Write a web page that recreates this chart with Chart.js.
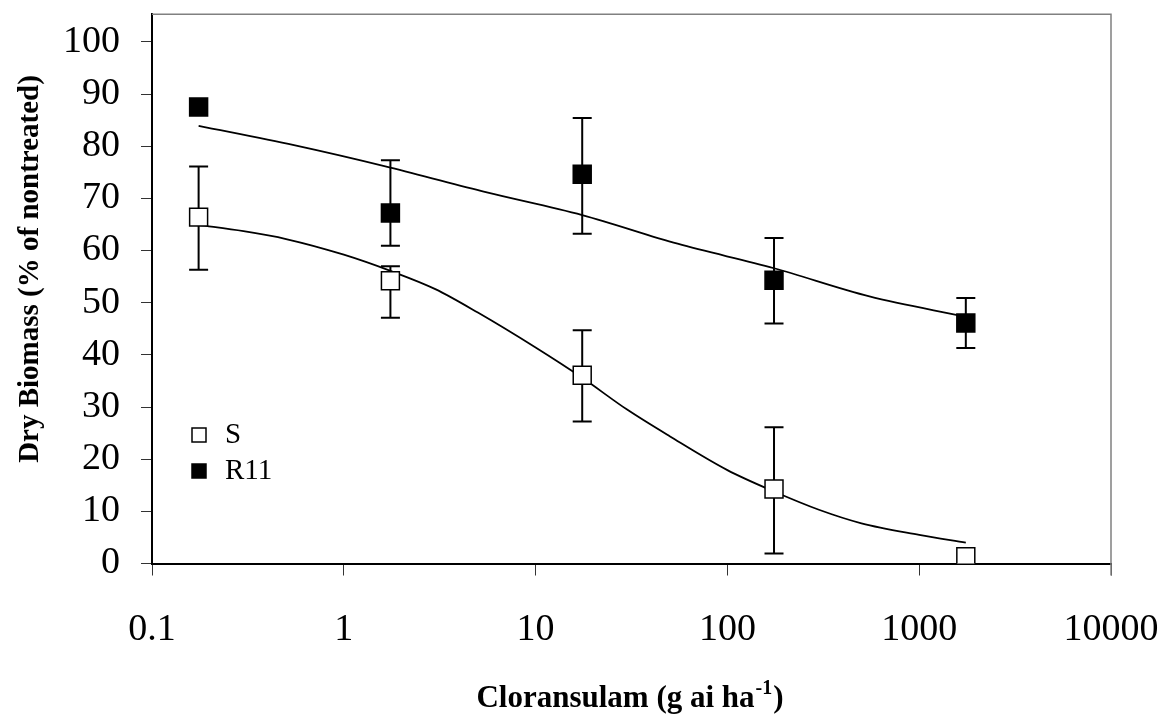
<!DOCTYPE html>
<html>
<head>
<meta charset="utf-8">
<title>Dry biomass vs cloransulam</title>
<script src="https://cdn.jsdelivr.net/npm/chart.js@4.4.0/dist/chart.umd.min.js"></script>
<style>
    html, body { margin: 0; padding: 0; background: #fff; }
    #wrap { width: 1165px; height: 715px; }
</style>
</head>
<body>
<div id="wrap"><canvas id="chart" width="1165" height="715"></canvas></div>
<script>
// doses (g ai/ha) and observed means with error bar ends
var doses = [0.175, 1.75, 17.5, 175, 1750];
var sMean = [66.4, 54.2, 36.1, 14.3, 1.3];
var sLow = [56.3, 47.1, 27.2, 1.9, null];
var sHigh = [76.1, 57.0, 44.7, 26.1, null];
var rMean = [87.5, 67.2, 74.6, 54.3, 46.1];
var rLow = [null, 60.9, 63.2, 46.0, 41.3];
var rHigh = [null, 77.3, 85.4, 62.4, 50.9];

// fitted curves
var sFitDose = [0.175, 0.3, 0.5, 1, 1.75, 3, 5, 10, 17.5, 30, 50, 100, 175, 300, 500, 1000, 1750];
var sFit = [64.9, 63.7, 62.2, 59.2, 56.1, 52.6, 48.1, 41.4, 35.6, 29.5, 24.4, 17.9, 13.8, 10.3, 7.7, 5.5, 4.0];
var rFitDose = [0.175, 0.55, 1.75, 5.5, 17.5, 55, 175, 550, 1750];
var rFit = [83.9, 80.2, 75.9, 71.2, 66.8, 61.3, 56.6, 51.2, 47.3];

var xTicks = [0.1, 1, 10, 100, 1000, 10000];
var yTicks = [0, 10, 20, 30, 40, 50, 60, 70, 80, 90, 100];
var seriesNames = ["S", "R11"];

var SERIF = '"Liberation Serif", "Times New Roman", serif';

function pts(xs, ys) {
    return xs.map(function (x, i) { return { x: x, y: ys[i] }; });
}

// error bars, drawn under the markers
var errorBars = {
    id: 'errorBars',
    beforeDatasetsDraw: function (chart) {
        var ctx = chart.ctx;
        var xs = chart.scales.x, ys = chart.scales.y;
        var sets = [[sLow, sHigh], [rLow, rHigh]];
        ctx.save();
        ctx.strokeStyle = '#000';
        ctx.lineWidth = 2;
        sets.forEach(function (s) {
            doses.forEach(function (d, i) {
                if (s[0][i] == null) return;
                var px = xs.getPixelForValue(d);
                var y1 = ys.getPixelForValue(s[0][i]);
                var y2 = ys.getPixelForValue(s[1][i]);
                ctx.beginPath();
                ctx.moveTo(px, y1); ctx.lineTo(px, y2);
                ctx.moveTo(px - 9.5, y1); ctx.lineTo(px + 9.5, y1);
                ctx.moveTo(px - 9.5, y2); ctx.lineTo(px + 9.5, y2);
                ctx.stroke();
            });
        });
        ctx.restore();
    }
};

// frame, legend and axis titles
var decor = {
    id: 'decor',
    afterDraw: function (chart) {
        var ctx = chart.ctx;
        var a = chart.chartArea;
        ctx.save();
        // grey frame top and right
        ctx.strokeStyle = '#808080';
        ctx.lineWidth = 1.5;
        ctx.beginPath();
        ctx.moveTo(a.left, a.top);
        ctx.lineTo(a.right, a.top);
        ctx.lineTo(a.right, a.bottom + 12);
        ctx.stroke();

        // legend
        ctx.font = '29px ' + SERIF;
        ctx.fillStyle = '#000';
        ctx.textBaseline = 'alphabetic';
        ctx.textAlign = 'left';
        var ly = [435, 471];
        seriesNames.forEach(function (name, i) {
            ctx.lineWidth = 1.5;
            ctx.strokeStyle = '#000';
            ctx.fillStyle = i === 0 ? '#fff' : '#000';
            ctx.fillRect(192, ly[i] - 7, 14, 14);
            ctx.strokeRect(192, ly[i] - 7, 14, 14);
            ctx.fillStyle = '#000';
            ctx.fillText(name, 225, ly[i] + 8);
        });

        // y title
        ctx.save();
        ctx.translate(38, 269);
        ctx.rotate(-Math.PI / 2);
        ctx.font = 'bold 29px ' + SERIF;
        ctx.textAlign = 'center';
        ctx.textBaseline = 'alphabetic';
        ctx.fillText('Dry Biomass (% of nontreated)', 0, 0);
        ctx.restore();

        // x title with superscript
        var main = 'Cloransulam (g ai ha', sup = '-1', close = ')';
        ctx.font = 'bold 31px ' + SERIF;
        var w1 = ctx.measureText(main).width;
        var w3 = ctx.measureText(close).width;
        ctx.font = 'bold 20px ' + SERIF;
        var w2 = ctx.measureText(sup).width;
        var x0 = 629 - (w1 + w2 + w3) / 2;
        ctx.textAlign = 'left';
        ctx.font = 'bold 31px ' + SERIF;
        ctx.fillText(main, x0, 707);
        ctx.font = 'bold 20px ' + SERIF;
        ctx.fillText(sup, x0 + w1 + 1, 694);
        ctx.font = 'bold 31px ' + SERIF;
        ctx.fillText(close, x0 + w1 + w2 + 2, 707);
        ctx.restore();
    }
};

var ctx = document.getElementById('chart').getContext('2d');
var chart = new Chart(ctx, {
    type: 'scatter',
    plugins: [errorBars, decor],
    data: {
        datasets: [{
            label: seriesNames[0],
            data: pts(doses, sMean),
            showLine: false,
            pointStyle: 'rect',
            pointRadius: 12.7,
            pointBorderWidth: 1.5,
            pointBorderColor: '#000',
            pointBackgroundColor: '#fff'
        }, {
            label: seriesNames[1],
            data: pts(doses, rMean),
            showLine: false,
            pointStyle: 'rect',
            pointRadius: 12.7,
            pointBorderWidth: 1.5,
            pointBorderColor: '#000',
            pointBackgroundColor: '#000'
        }, {
            label: 'S fit',
            data: pts(sFitDose, sFit),
            showLine: true,
            pointRadius: 0,
            borderColor: '#000',
            borderWidth: 1.8,
            cubicInterpolationMode: 'monotone'
        }, {
            label: 'R11 fit',
            data: pts(rFitDose, rFit),
            showLine: true,
            pointRadius: 0,
            borderColor: '#000',
            borderWidth: 1.8,
            cubicInterpolationMode: 'monotone'
        }]
    },
    options: {
        responsive: false,
        animation: false,
        devicePixelRatio: 1,
        layout: { padding: { top: 14, right: 54, left: 0, bottom: 0 } },
        plugins: {
            legend: { display: false },
            title: { display: false },
            tooltip: { enabled: false }
        },
        scales: {
            x: {
                type: 'logarithmic',
                min: 0.1,
                max: 10000,
                afterBuildTicks: function (scale) {
                    scale.ticks = xTicks.map(function (v) { return { value: v }; });
                },
                afterFit: function (scale) {
                    scale.height = 151.5;
                    scale.paddingLeft = 0;
                    scale.paddingRight = 0;
                },
                border: { color: '#000', width: 2 },
                grid: { drawOnChartArea: false, tickLength: 12, color: '#333', lineWidth: 1 },
                ticks: {
                    color: '#000',
                    font: { family: SERIF, size: 38 },
                    padding: 32,
                    maxRotation: 0,
                    autoSkip: false,
                    callback: function (v) { return String(v); }
                }
            },
            y: {
                min: 0,
                max: 105.3,
                afterBuildTicks: function (scale) {
                    scale.ticks = yTicks.map(function (v) { return { value: v }; });
                },
                afterFit: function (scale) {
                    scale.width = 152;
                    scale.paddingTop = 0;
                    scale.paddingBottom = 0;
                },
                border: { color: '#000', width: 2 },
                grid: { drawOnChartArea: false, tickLength: 11, color: '#333', lineWidth: 1 },
                ticks: {
                    color: '#000',
                    font: { family: SERIF, size: 38 },
                    padding: 21
                }
            }
        }
    }
});
</script>
</body>
</html>
